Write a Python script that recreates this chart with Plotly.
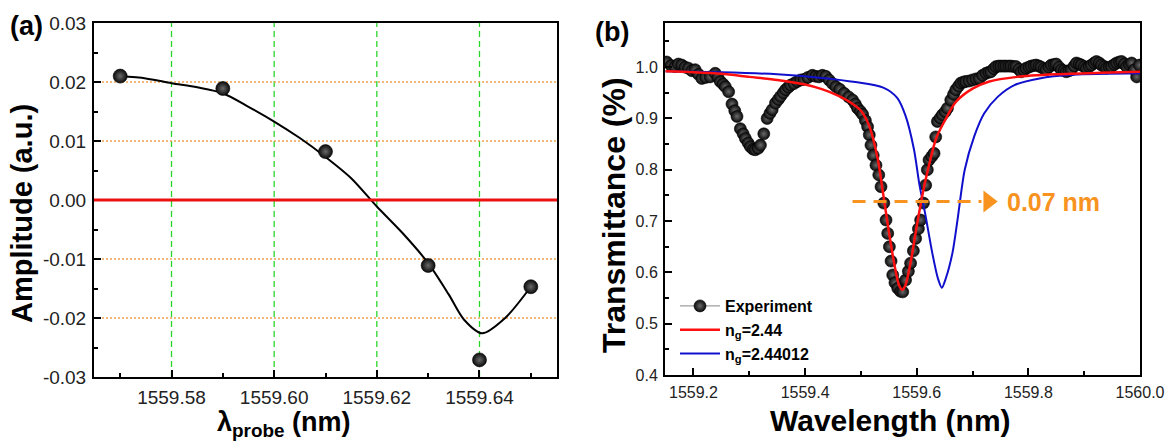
import plotly.graph_objects as go

# ---------------- Panel (a) data ----------------
probe_wl = [1559.57, 1559.59, 1559.61, 1559.63, 1559.64, 1559.65]
probe_amp = [0.0210, 0.0189, 0.0082, -0.0111, -0.0271, -0.0147]

fit_wl = [1559.570, 1559.575, 1559.580, 1559.585, 1559.590, 1559.595, 1559.600,
          1559.605, 1559.610, 1559.615, 1559.620, 1559.625, 1559.630, 1559.634,
          1559.637, 1559.6405, 1559.645, 1559.650]
fit_amp = [0.0210, 0.0206, 0.0198, 0.0191, 0.0181, 0.0158, 0.0133,
           0.0105, 0.0073, 0.0037, -0.0011, -0.0056, -0.0107, -0.0160,
           -0.0203, -0.0226, -0.0200, -0.0147]

a_xticks = [1559.58, 1559.60, 1559.62, 1559.64]
a_xminor = [1559.57, 1559.59, 1559.61, 1559.63, 1559.65]
a_yticks = [-0.03, -0.02, -0.01, 0.00, 0.01, 0.02, 0.03]
a_yminor = [-0.025, -0.015, -0.005, 0.005, 0.015, 0.025]
a_ygrid = [-0.02, -0.01, 0.01, 0.02]

# ---------------- Panel (b) data ----------------
exp_wl = [1559.152, 1559.160, 1559.167, 1559.173, 1559.179, 1559.185, 1559.191, 1559.197,
          1559.203, 1559.209, 1559.215, 1559.222, 1559.230, 1559.239, 1559.244, 1559.248,
          1559.253, 1559.257, 1559.263, 1559.269, 1559.274, 1559.278, 1559.284, 1559.289,
          1559.293, 1559.298, 1559.302, 1559.307, 1559.311, 1559.316, 1559.320, 1559.326,
          1559.332, 1559.337, 1559.341, 1559.347, 1559.352, 1559.356, 1559.361, 1559.365,
          1559.370, 1559.374, 1559.380, 1559.386, 1559.392, 1559.398, 1559.405, 1559.413,
          1559.419, 1559.425, 1559.431, 1559.437, 1559.443, 1559.449, 1559.455, 1559.462,
          1559.470, 1559.478, 1559.485, 1559.490, 1559.494, 1559.499, 1559.503, 1559.508,
          1559.512, 1559.515, 1559.518, 1559.522, 1559.527, 1559.532, 1559.536, 1559.541,
          1559.545, 1559.548, 1559.551, 1559.554, 1559.557, 1559.561, 1559.566, 1559.571,
          1559.575, 1559.580, 1559.585, 1559.589, 1559.594, 1559.598, 1559.603, 1559.607,
          1559.612, 1559.616, 1559.619, 1559.622, 1559.627, 1559.631, 1559.634, 1559.637,
          1559.642, 1559.646, 1559.651, 1559.655, 1559.661, 1559.666, 1559.670, 1559.675,
          1559.679, 1559.684, 1559.688, 1559.694, 1559.700, 1559.706, 1559.712, 1559.718,
          1559.724, 1559.729, 1559.733, 1559.738, 1559.742, 1559.747, 1559.751, 1559.756,
          1559.760, 1559.765, 1559.769, 1559.774, 1559.778, 1559.783, 1559.787, 1559.792,
          1559.796, 1559.801, 1559.805, 1559.810, 1559.814, 1559.819, 1559.823, 1559.828,
          1559.832, 1559.837, 1559.841, 1559.846, 1559.850, 1559.855, 1559.859, 1559.864,
          1559.868, 1559.873, 1559.877, 1559.882, 1559.886, 1559.891, 1559.895, 1559.900,
          1559.904, 1559.909, 1559.913, 1559.918, 1559.922, 1559.927, 1559.931, 1559.936,
          1559.940, 1559.945, 1559.949, 1559.954, 1559.958, 1559.963, 1559.967, 1559.972,
          1559.976, 1559.981, 1559.985, 1559.990, 1559.994, 1559.999]
exp_T = [1.010, 1.003, 1.001, 1.006, 1.004, 1.000, 0.998, 0.993,
         0.995, 0.986, 0.978, 0.980, 0.981, 0.988, 0.980, 0.972,
         0.967, 0.962, 0.952, 0.928, 0.915, 0.904, 0.880, 0.870,
         0.861, 0.852, 0.845, 0.840, 0.839, 0.842, 0.848, 0.870,
         0.900, 0.910, 0.917, 0.930, 0.937, 0.943, 0.950, 0.956,
         0.961, 0.965, 0.968, 0.972, 0.975, 0.976, 0.980, 0.984,
         0.982, 0.981, 0.984, 0.982, 0.975, 0.968, 0.962, 0.957,
         0.949, 0.942, 0.936, 0.928, 0.920, 0.914, 0.908, 0.896,
         0.884, 0.868, 0.848, 0.828, 0.809, 0.790, 0.767, 0.735,
         0.702, 0.676, 0.650, 0.622, 0.595, 0.580, 0.569, 0.563,
         0.562, 0.585, 0.602, 0.618, 0.642, 0.666, 0.685, 0.702,
         0.735, 0.770, 0.800, 0.819, 0.826, 0.832, 0.864, 0.894,
         0.901, 0.907, 0.913, 0.920, 0.936, 0.947, 0.956, 0.963,
         0.969, 0.971, 0.972, 0.973, 0.975, 0.977, 0.978, 0.984,
         0.988, 0.990, 0.991, 0.997, 1.001, 1.002, 1.002, 1.002,
         1.002, 1.002, 1.002, 1.001, 1.001, 0.996, 0.991, 0.994,
         0.998, 1.000, 1.002, 1.003, 1.004, 1.002, 1.000, 0.997,
         0.995, 1.000, 1.004, 1.005, 1.006, 1.000, 0.995, 0.993,
         0.991, 0.993, 0.995, 1.002, 1.008, 1.006, 1.004, 1.001,
         0.998, 1.001, 1.004, 1.008, 1.011, 1.008, 1.004, 1.001,
         0.998, 1.000, 1.001, 1.005, 1.008, 1.010, 1.011, 1.006,
         1.001, 1.005, 1.008, 0.995, 0.981, 1.004]

red_wl = [1559.15, 1559.20, 1559.25, 1559.30, 1559.35, 1559.40, 1559.43, 1559.46,
          1559.48, 1559.50, 1559.515, 1559.53, 1559.54, 1559.55, 1559.56, 1559.568,
          1559.574, 1559.58, 1559.59, 1559.60, 1559.61, 1559.62, 1559.635, 1559.65,
          1559.67, 1559.70, 1559.73, 1559.78, 1559.85, 1559.93, 1560.00]
red_T = [0.992, 0.990, 0.987, 0.981, 0.975, 0.966, 0.957, 0.944,
         0.932, 0.915, 0.885, 0.822, 0.752, 0.680, 0.615, 0.576,
         0.566, 0.576, 0.625, 0.690, 0.750, 0.800, 0.862, 0.895,
         0.932, 0.958, 0.972, 0.981, 0.986, 0.989, 0.991]

blue_wl = [1559.15, 1559.25, 1559.35, 1559.43, 1559.49, 1559.54, 1559.565, 1559.58,
           1559.595, 1559.605, 1559.615, 1559.628, 1559.638, 1559.645, 1559.652, 1559.664,
           1559.673, 1559.686, 1559.703, 1559.721, 1559.745, 1559.775, 1559.82, 1559.88,
           1560.00]
blue_T = [0.992, 0.990, 0.986, 0.979, 0.971, 0.960, 0.940, 0.905,
          0.840, 0.770, 0.715, 0.637, 0.588, 0.570, 0.588, 0.638,
          0.702, 0.800, 0.865, 0.910, 0.942, 0.965, 0.978, 0.985,
          0.988]

arrow_x = [1559.485, 1559.716]
arrow_y = [0.738, 0.738]
arrow_head_x = [1559.728]
shift_label = "0.07 nm"
shift_label_x = 1559.758

b_xticks = [1559.2, 1559.4, 1559.6, 1559.8, 1560.0]
b_xminor = [1559.3, 1559.5, 1559.7, 1559.9]
b_yticks = [0.4, 0.5, 0.6, 0.7, 0.8, 0.9, 1.0]
b_yminor = [0.45, 0.55, 0.65, 0.75, 0.85, 0.95, 1.05]

W, H = 1168, 442
ORANGE = "#F7931E"
FONT = "Liberation Sans, Arial, sans-serif"

def px_x(p):
    return p / W

def px_y(p):
    return 1 - p / H

fig = go.Figure()

ball = dict(color="#0a0a0a", gradient=dict(type="radial", color="#6a6a6a"),
            line=dict(color="#000000", width=0.6))

# Panel (a)
fig.add_trace(go.Scatter(x=fit_wl, y=fit_amp, mode="lines", line=dict(color="black", width=2, shape="spline", smoothing=0.8),
                         xaxis="x", yaxis="y", showlegend=False, hoverinfo="skip"))
fig.add_trace(go.Scatter(x=probe_wl, y=probe_amp, mode="markers", marker=dict(size=14, **ball),
                         xaxis="x", yaxis="y", showlegend=False))

# Panel (b)
fig.add_trace(go.Scatter(x=exp_wl, y=exp_T, mode="markers", marker=dict(size=12, **ball),
                         xaxis="x2", yaxis="y2", showlegend=False))
fig.add_trace(go.Scatter(x=blue_wl, y=blue_T, mode="lines", line=dict(color="#1010CC", width=2, shape="spline", smoothing=0.8),
                         xaxis="x2", yaxis="y2", showlegend=False))
fig.add_trace(go.Scatter(x=red_wl, y=red_T, mode="lines", line=dict(color="#FF1010", width=2.5, shape="spline", smoothing=0.8),
                         xaxis="x2", yaxis="y2", showlegend=False))
fig.add_trace(go.Scatter(x=arrow_x, y=arrow_y, mode="lines", line=dict(color=ORANGE, width=3, dash="13px,8px"),
                         xaxis="x2", yaxis="y2", showlegend=False))
fig.add_trace(go.Scatter(x=arrow_head_x, y=arrow_y[:1], mode="markers",
                         marker=dict(symbol="triangle-right", size=19, color=ORANGE, line=dict(width=0)),
                         xaxis="x2", yaxis="y2", showlegend=False))

# legend proxies
fig.add_trace(go.Scatter(x=[None], y=[None], mode="lines+markers", name="<b>Experiment</b>",
                         line=dict(color="#888888", width=1), marker=dict(size=12, **ball),
                         xaxis="x2", yaxis="y2"))
fig.add_trace(go.Scatter(x=[None], y=[None], mode="lines", name="<b>n<sub>g</sub>=2.44</b>",
                         line=dict(color="#FF1010", width=2.5), xaxis="x2", yaxis="y2"))
fig.add_trace(go.Scatter(x=[None], y=[None], mode="lines", name="<b>n<sub>g</sub>=2.44012</b>",
                         line=dict(color="#1010CC", width=2), xaxis="x2", yaxis="y2"))

common_axis = dict(showline=True, linecolor="black", linewidth=2, mirror=True, automargin=False,
                   ticks="inside", ticklen=7, tickwidth=1.5, tickcolor="black", showgrid=False,
                   zeroline=False, tickfont=dict(family=FONT, color="#222", size=19))

def minor_cfg(vals):
    return dict(tickmode="array", tickvals=vals, ticks="inside", ticklen=4, tickwidth=1.5,
                tickcolor="black", showgrid=False)

shapes = []
for v in a_xticks:
    shapes.append(dict(type="line", xref="x", yref="y domain", x0=v, x1=v, y0=0, y1=1,
                       line=dict(color="#2BD62B", width=1.3, dash="6px,4px"), layer="below"))
for v in a_ygrid:
    shapes.append(dict(type="line", xref="x domain", yref="y", x0=0, x1=1, y0=v, y1=v,
                       line=dict(color="#EDA050", width=1.3, dash="2px,2px"), layer="below"))
shapes.append(dict(type="line", xref="x domain", yref="y", x0=0, x1=1, y0=0, y1=0,
                   line=dict(color="#EE1111", width=3), layer="above"))

def label(text, x, y, size, angle=0, color="black", xanchor="center"):
    return dict(text=text, x=px_x(x), y=px_y(y), xref="paper", yref="paper", showarrow=False,
                xanchor=xanchor, yanchor="middle", textangle=angle,
                font=dict(size=size, family=FONT, color=color))

fig.update_layout(
    template="none",
    width=W, height=H,
    margin=dict(l=0, r=0, t=0, b=0, autoexpand=False),
    plot_bgcolor="white", paper_bgcolor="white",
    font=dict(family=FONT, color="black"),
    xaxis=dict(common_axis, domain=[px_x(94), px_x(557)], range=[1559.5649, 1559.6551],
               tickmode="array", tickvals=a_xticks, ticktext=[f"{v:.2f}" for v in a_xticks],
               minor=minor_cfg(a_xminor), ticklabelstandoff=2, anchor="y"),
    yaxis=dict(common_axis, domain=[px_y(377), px_y(23)], range=[-0.03, 0.03],
               tickmode="array", tickvals=a_yticks, ticktext=[f"{v:.2f}" for v in a_yticks],
               minor=minor_cfg(a_yminor), ticklabelstandoff=2, anchor="x"),
    xaxis2=dict(common_axis, domain=[px_x(665), px_x(1140)], range=[1559.149, 1560.0],
                tickmode="array", tickvals=b_xticks, ticktext=[f"{v:.1f}" for v in b_xticks],
                tickfont=dict(family=FONT, color="#222", size=16),
                minor=minor_cfg(b_xminor), ticklabelstandoff=2, anchor="y2"),
    yaxis2=dict(common_axis, domain=[px_y(375), px_y(23)], range=[0.4, 1.086],
                tickmode="array", tickvals=b_yticks, ticktext=[f"{v:.1f}" for v in b_yticks],
                tickfont=dict(family=FONT, color="#222", size=16),
                minor=minor_cfg(b_yminor), ticklabelstandoff=2, anchor="x2"),
    legend=dict(x=px_x(675), y=px_y(289), xanchor="left", yanchor="top",
                bgcolor="rgba(0,0,0,0)", font=dict(family=FONT, size=16, color="black"),
                itemwidth=40, tracegroupgap=0),
    shapes=shapes,
    annotations=[
        label("<b>(a)</b>", 26, 26, 27),
        label("<b>(b)</b>", 612, 32, 27),
        label("<b>Amplitude (a.u.)</b>", 22, 214, 29, angle=-90),
        label("<b>λ<sub>probe</sub> (nm)</b>", 284, 424, 27),
        label("<b>Transmittance (%)</b>", 614, 215, 32, angle=-90),
        label("<b>Wavelength (nm)</b>", 890, 420, 30),
        dict(text=f"<b>{shift_label}</b>", x=shift_label_x, y=arrow_y[0], xref="x2", yref="y2",
             xanchor="left", yanchor="middle", showarrow=False,
             font=dict(size=25, family=FONT, color=ORANGE)),
    ],
)

fig.write_html("out.html")
